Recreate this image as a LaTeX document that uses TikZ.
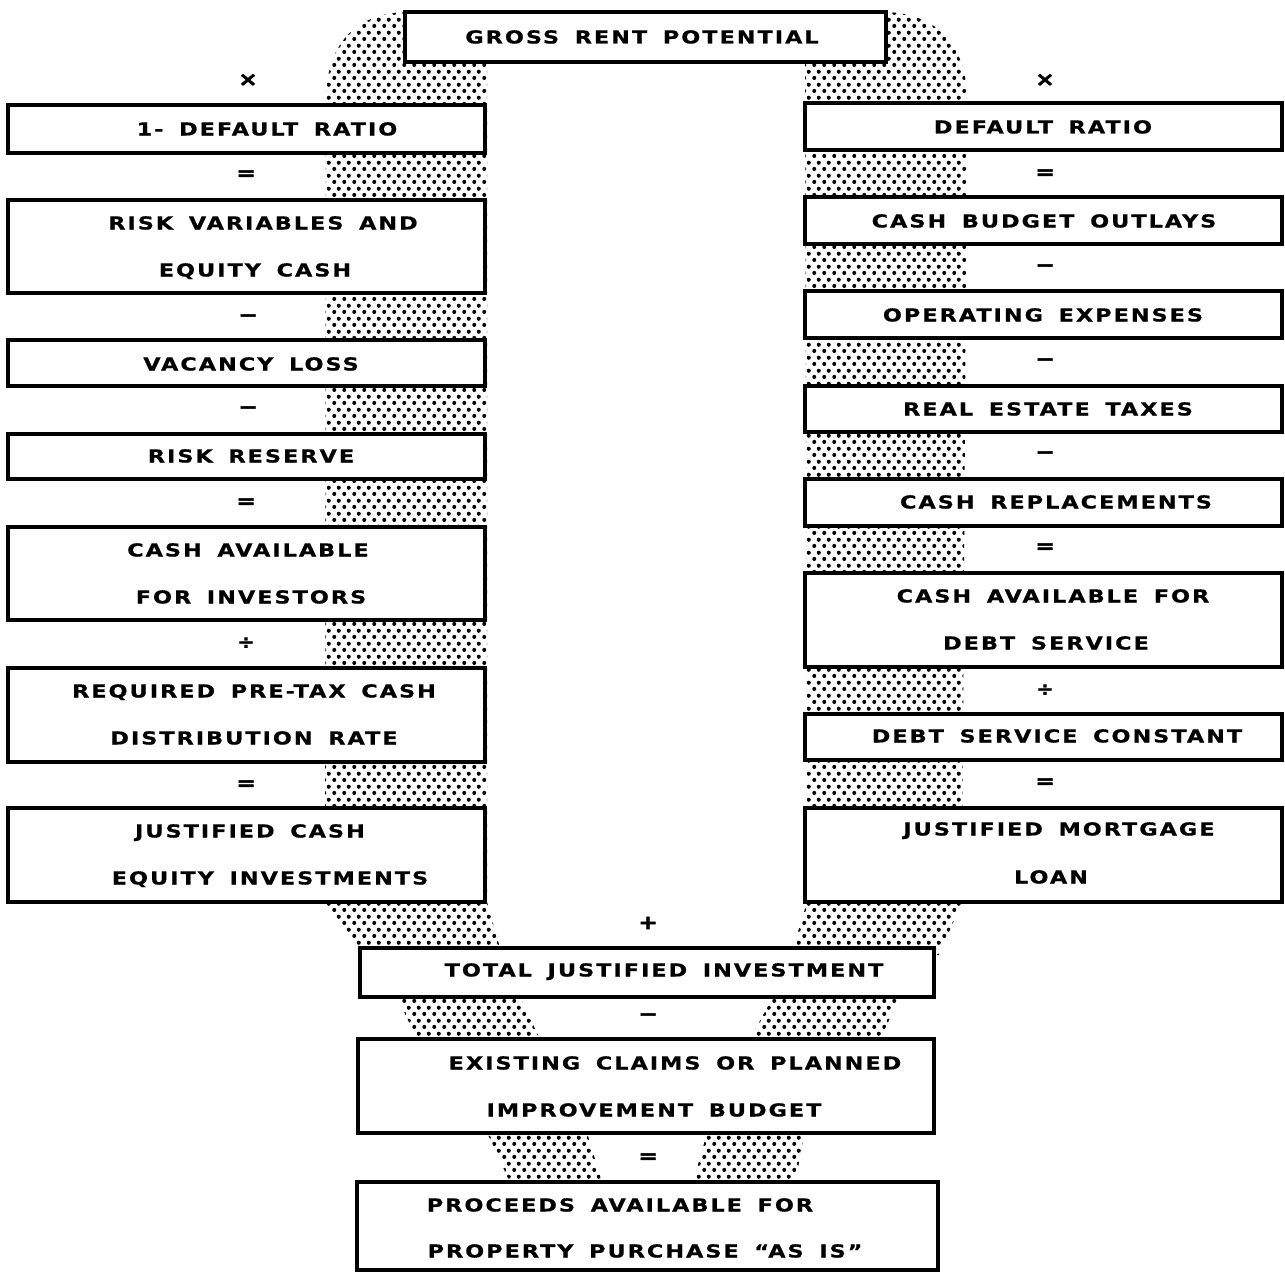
\documentclass[tikz,border=0pt]{standalone}
\usepackage{fontspec}
\usetikzlibrary{patterns,fit}
\newfontfamily\boxfont{DejaVu Sans Bold}[FakeStretch=1.25, LetterSpace=11, WordSpace=1.6, FakeBold=0.6]
\newfontfamily\opfont{DejaVu Sans Bold}[FakeStretch=1.2, FakeBold=2.5]
\newfontfamily\divfont{DejaVu Sans Bold}[FakeStretch=1.1, FakeBold=0.5]

% staggered dot screen for the band behind the boxes
\pgfdeclarepatternformonly{stipple}{\pgfqpoint{0pt}{0pt}}{\pgfqpoint{5.4pt}{7.2pt}}{\pgfqpoint{5.4pt}{7.2pt}}{%
  \pgfpathcircle{\pgfqpoint{1.35pt}{1.8pt}}{1.2pt}%
  \pgfpathcircle{\pgfqpoint{4.05pt}{5.4pt}}{1.2pt}%
  \pgfusepath{fill}}

\tikzset{
  frame/.style={draw, line width=1.9pt, fill=white, inner sep=0pt},
  lbl/.style={font=\boxfont\fontsize{10.2}{12}\selectfont, inner sep=0pt,
              text height=7.4pt, text depth=0pt},
  op/.style={font=\opfont\fontsize{11}{13}\selectfont, inner sep=0pt},
  divop/.style={font=\divfont\fontsize{11}{13}\selectfont, inner sep=0pt},
  band/.style={pattern=stipple, pattern color=black}
}
\newcommand\panel[3]{\node[frame, fit={#2 #3}] (#1) {};}

\begin{document}
\begin{tikzpicture}[x=0.02cm, y=-0.02cm]
\useasboundingbox (0,0) rectangle (1285,1274);

% ---- stippled band ----
\fill[band]
  % left arm
  (326,100) .. controls (326,48) and (352,14) .. (405,12) -- (487,12)
    -- (487,902) -- (502,955) -- (365,955) -- (325,902) -- cycle
  % right arm
  (967,100) .. controls (967,48) and (940,14) .. (886,12) -- (805,12)
    -- (807,902) -- (791,955) -- (939,955) -- (962,902) -- cycle
  % under the total
  (394,990) -- (517,990) -- (543,1046) -- (420,1046) -- cycle
  (777,990) -- (903,990) -- (877,1046) -- (746,1046) -- cycle
  % under the claims
  (484,1126) -- (585,1126) -- (604,1189) -- (513,1189) -- cycle
  (709,1126) -- (806,1126) -- (794,1189) -- (691,1189) -- cycle;

% ---- top ----
\panel{grp}{(405,12)}{(886,62)}
\node[lbl] (grpt) at (642,37) {GROSS RENT POTENTIAL};

% ---- left column ----
\node[op] (lx) at (248,80) {×};
\panel{l1}{(8,105)}{(485,153)}
\node[lbl] (l1t) at (267,129) {1- DEFAULT RATIO};
\node[op] (le1) at (246,175) {=};
\panel{l2}{(8,200)}{(485,293)}
\node[lbl] (l2a) at (263,223) {RISK VARIABLES AND};
\node[lbl] (l2b) at (255,270) {EQUITY CASH};
\node[op] (lm1) at (248,318) {−};
\panel{l3}{(8,340)}{(485,386)}
\node[lbl] (l3t) at (251,364) {VACANCY LOSS};
\node[op] (lm2) at (248,410) {−};
\panel{l4}{(8,434)}{(485,479)}
\node[lbl] (l4t) at (251,456) {RISK RESERVE};
\node[op] (le2) at (246,503) {=};
\panel{l5}{(8,527)}{(485,620)}
\node[lbl] (l5a) at (248,550) {CASH AVAILABLE};
\node[lbl] (l5b) at (251,597) {FOR INVESTORS};
\node[divop] (ld) at (246,643) {÷};
\panel{l6}{(8,668)}{(485,762)}
\node[lbl] (l6a) at (254,691) {REQUIRED PRE-TAX CASH};
\node[lbl] (l6b) at (254,738) {DISTRIBUTION RATE};
\node[op] (le3) at (246,785) {=};
\panel{l7}{(8,808)}{(485,902)}
\node[lbl] (l7a) at (250,831) {JUSTIFIED CASH};
\node[lbl] (l7b) at (270,878) {EQUITY INVESTMENTS};

% ---- right column ----
\node[op] (rx) at (1045,80) {×};
\panel{r1}{(805,103)}{(1282,150)}
\node[lbl] (r1t) at (1043,127) {DEFAULT RATIO};
\node[op] (re1) at (1045,174) {=};
\panel{r2}{(805,197)}{(1282,244)}
\node[lbl] (r2t) at (1044,221) {CASH BUDGET OUTLAYS};
\node[op] (rm1) at (1045,268) {−};
\panel{r3}{(805,291)}{(1282,338)}
\node[lbl] (r3t) at (1043,315) {OPERATING EXPENSES};
\node[op] (rm2) at (1045,362) {−};
\panel{r4}{(805,386)}{(1282,432)}
\node[lbl] (r4t) at (1048,409) {REAL ESTATE TAXES};
\node[op] (rm3) at (1045,455) {−};
\panel{r5}{(805,479)}{(1282,526)}
\node[lbl] (r5t) at (1056,502) {CASH REPLACEMENTS};
\node[op] (re2) at (1045,548) {=};
\panel{r6}{(805,573)}{(1282,667)}
\node[lbl] (r6a) at (1053,596) {CASH AVAILABLE FOR};
\node[lbl] (r6b) at (1046,643) {DEBT SERVICE};
\node[divop] (rd) at (1045,690) {÷};
\panel{r7}{(805,714)}{(1282,760)}
\node[lbl] (r7t) at (1057,736) {DEBT SERVICE CONSTANT};
\node[op] (re3) at (1045,783) {=};
\panel{r8}{(805,808)}{(1282,902)}
\node[lbl] (r8a) at (1059,829) {JUSTIFIED MORTGAGE};
\node[lbl] (r8b) at (1051,877) {LOAN};

% ---- bottom stack ----
\node[op] (cp) at (648,923) {+};
\panel{tot}{(360,948)}{(934,997)}
\node[lbl] (tott) at (664,970) {TOTAL JUSTIFIED INVESTMENT};
\node[op] (cm) at (648,1017) {−};
\panel{ex}{(358,1039)}{(934,1133)}
\node[lbl] (exa) at (675,1063) {EXISTING CLAIMS OR PLANNED};
\node[lbl] (exb) at (654,1110) {IMPROVEMENT BUDGET};
\node[op] (ce) at (648,1158) {=};
\panel{pr}{(357,1182)}{(938,1270)}
\node[lbl] (pra) at (620,1205) {PROCEEDS AVAILABLE FOR};
\node[lbl] (prb) at (645,1251) {PROPERTY PURCHASE “AS IS”};
\end{tikzpicture}
\end{document}
